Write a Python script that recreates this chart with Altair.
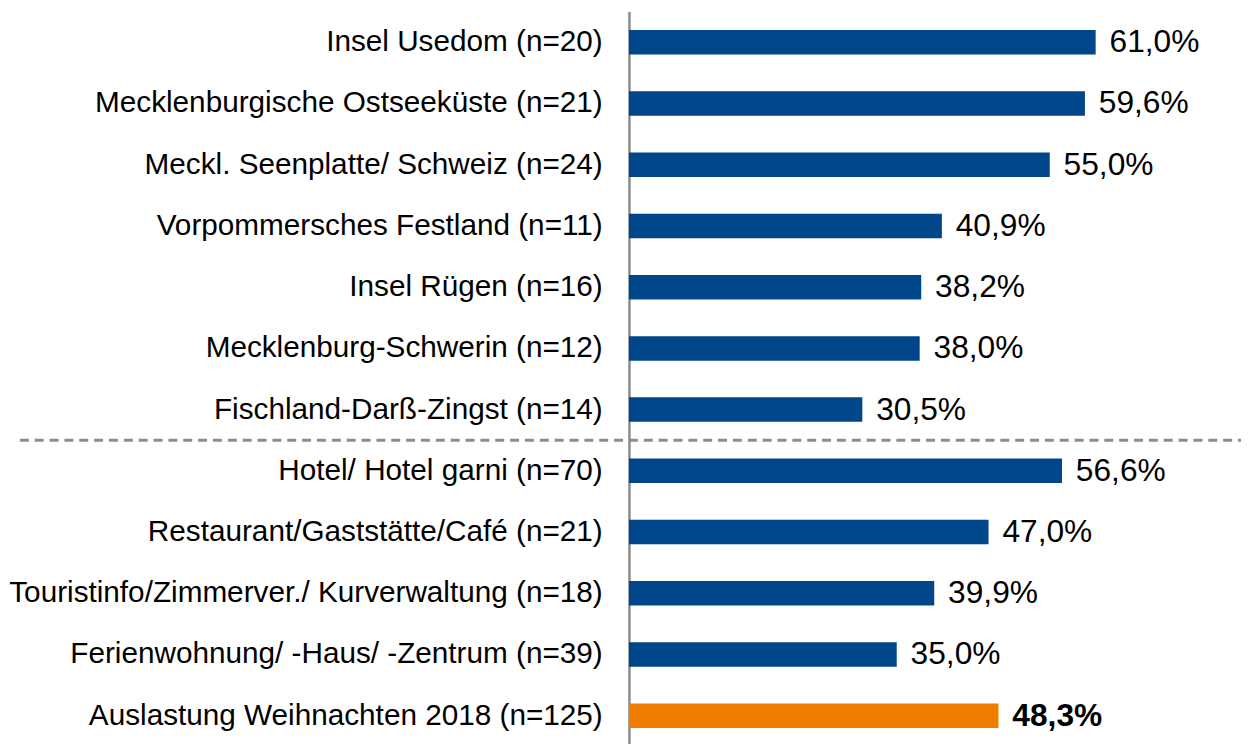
import altair as alt
import pandas as pd

categories = [
    "Insel Usedom (n=20)",
    "Mecklenburgische Ostseeküste (n=21)",
    "Meckl. Seenplatte/ Schweiz (n=24)",
    "Vorpommersches Festland (n=11)",
    "Insel Rügen (n=16)",
    "Mecklenburg-Schwerin (n=12)",
    "Fischland-Darß-Zingst (n=14)",
    "Hotel/ Hotel garni (n=70)",
    "Restaurant/Gaststätte/Café (n=21)",
    "Touristinfo/Zimmerver./ Kurverwaltung (n=18)",
    "Ferienwohnung/ -Haus/ -Zentrum (n=39)",
    "Auslastung Weihnachten 2018 (n=125)",
]
values = [61.0, 59.6, 55.0, 40.9, 38.2, 38.0, 30.5, 56.6, 47.0, 39.9, 35.0, 48.3]
groups = ["region"] * 7 + ["type"] * 4 + ["total"]

df = pd.DataFrame({"cat": categories, "value": values, "group": groups})

FONT = "Liberation Sans"
HEIGHT = 742
STEP = HEIGHT / (12 - 0.6 + 2 * 0.3)

yenc = alt.Y(
    "cat:N",
    sort=categories,
    scale=alt.Scale(paddingInner=0.6, paddingOuter=0.3),
    axis=alt.Axis(
        title=None,
        ticks=False,
        labelFontSize=30,
        labelFont=FONT,
        labelColor="#000000",
        labelPadding=27,
        labelLimit=1000,
        domainColor="#8c8c8c",
        domainWidth=2.5,
        grid=False,
    ),
)
xenc = alt.X("value:Q", scale=alt.Scale(domain=[0, 80]), axis=None)

base = alt.Chart(df).encode(y=yenc)

bars = base.mark_bar().encode(
    x=xenc,
    color=alt.Color(
        "group:N",
        scale=alt.Scale(domain=["region", "type", "total"], range=["#00468B", "#00468B", "#EF7D00"]),
        legend=None,
    ),
)

labelled = base.transform_calculate(
    label="replace(format(datum.value, '.1f'), '.', ',') + '%'"
)

labels = (
    labelled.transform_filter(alt.datum.group != "total")
    .mark_text(align="left", baseline="middle", dx=14, fontSize=32, font=FONT, color="#000000")
    .encode(x=xenc, text="label:N")
)
labels_total = (
    labelled.transform_filter(alt.datum.group == "total")
    .mark_text(align="left", baseline="middle", dx=14, fontSize=32, font=FONT, color="#000000", fontWeight="bold")
    .encode(x=xenc, text="label:N")
)

sep = (
    alt.Chart(pd.DataFrame({"cat": [categories[6]]}))
    .mark_rule(strokeDash=[9, 6], strokeWidth=3, color="#8c8c8c", clip=False, yOffset=0.3 * STEP)
    .encode(
        y=alt.Y("cat:N", sort=categories, bandPosition=1),
        x=alt.value(-615),
        x2=alt.value(618),
    )
)

chart = (
    alt.layer(bars, labels, labels_total, sep)
    .properties(width=618, height=HEIGHT, padding=0)
    .configure_view(stroke=None)
)

chart.save("out.html", embed_options={"renderer": "svg", "actions": False})
